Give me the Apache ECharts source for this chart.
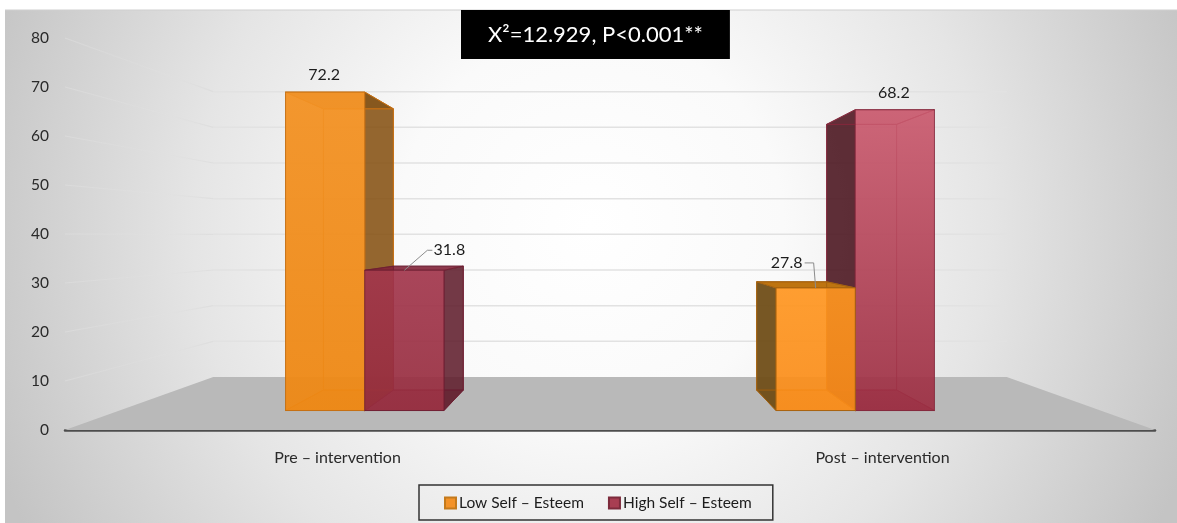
<!DOCTYPE html>
<html>
<head>
<meta charset="utf-8">
<style>html,body{margin:0;padding:0;background:#fff}#chart{width:1177px;height:523px}</style>
<script src="https://cdn.jsdelivr.net/npm/echarts@6/dist/echarts.min.js"></script>
</head>
<body>
<div id="chart"></div>
<script>
// Self-esteem levels before and after the intervention
const categories = ['Pre – intervention', 'Post – intervention'];
const lowSelfEsteem = [72.2, 27.8];
const highSelfEsteem = [31.8, 68.2];
const wallTicks = [0, 10, 20, 30, 40, 50, 60, 70, 80];
const statText = 'X²=12.929, P<0.001**';

const FONT = 'Lato, "Noto Sans", sans-serif';

// One-point perspective: every point is given in the plane of the axes and
// pulled toward the vanishing point by a depth factor.
const DEPTH_WALL = 0.728, DEPTH_BAR_FRONT = 0.9, DEPTH_BAR_BACK = 0.795;
const HORIZON_RATIO = 0.497;   // height of the vanishing point above the axis, as share of the plot
const BAR_BAND_RATIO = 0.1615; // bar width as share of a category band

function projector(cs) {
  const vx = cs.x + cs.width / 2;
  const vy = cs.y + cs.height - cs.height * HORIZON_RATIO;
  return (x, y, s) => [vx + s * (x - vx), vy + s * (y - vy)];
}

// Top-to-bottom shading of a front pane
function shade(top, bottom) {
  return new echarts.graphic.LinearGradient(0, 0, 0, 1, [
    { offset: 0, color: top },
    { offset: 1, color: bottom }
  ]);
}

const palettes = {
  low: [
    { front: shade('rgba(243,146,36,0.95)', 'rgba(238,136,20,0.95)'), side: 'rgba(130,76,12,0.85)', top: 'rgba(120,70,10,0.45)', floor: 'rgba(225,130,25,0.4)', line: 'rgba(196,112,20,0.95)' },
    { front: shade('rgba(255,150,32,0.92)', 'rgba(250,140,24,0.92)'), side: 'rgba(112,78,24,0.95)', top: 'rgba(190,116,16,1)', floor: 'rgba(225,130,25,0.4)', line: 'rgba(165,98,16,0.9)' }
  ],
  high: [
    { front: shade('rgba(162,54,76,0.92)', 'rgba(150,44,62,0.92)'), side: 'rgba(96,30,44,0.88)', top: 'rgba(130,36,56,0.9)', floor: 'rgba(140,50,70,0.5)', line: 'rgba(110,30,50,0.8)' },
    { front: shade('rgba(202,90,110,0.92)', 'rgba(156,46,66,0.92)'), side: 'rgba(80,28,38,0.92)', top: 'rgba(170,60,84,0.08)', floor: 'rgba(130,45,65,0.55)', line: 'rgba(130,40,60,0.85)' }
  ]
};

function boxRenderer(key, side) {
  return function (params, api) {
    const cat = api.value(0), value = api.value(1);
    const cs = params.coordSys;
    const P = projector(cs);
    const centre = api.coord([cat, 0]);
    const yBase = centre[1];
    const yTop = api.coord([cat, value])[1];
    const w = api.size([1, 0])[0] * BAR_BAND_RATIO;
    const x0 = side < 0 ? centre[0] - w : centre[0];
    const x1 = x0 + w;
    const f = DEPTH_BAR_FRONT, b = DEPTH_BAR_BACK;
    const pal = palettes[key][cat];

    // the box closer to the centre of the view is painted over its neighbour
    const leftOfCentre = cat === 0;
    let z = ((leftOfCentre ? side > 0 : side < 0) ? 200 : 100);
    const fill = (pts, color, stroke) => ({
      type: 'polygon', z2: z++, silent: true,
      shape: { points: pts },
      style: { fill: color, stroke: stroke || pal.line, lineWidth: 1 }
    });
    const edge = (a, c) => ({
      type: 'line', z2: z++, silent: true,
      shape: { x1: a[0], y1: a[1], x2: c[0], y2: c[1] },
      style: { stroke: pal.line, lineWidth: 1 }
    });

    const children = [];
    const innerX = leftOfCentre ? x1 : x0;
    // floor of the box, inner side wall, lid, back edges, then the front pane
    children.push(fill([P(x0, yBase, f), P(x1, yBase, f), P(x1, yBase, b), P(x0, yBase, b)], pal.floor));
    children.push(fill([P(innerX, yTop, f), P(innerX, yTop, b), P(innerX, yBase, b), P(innerX, yBase, f)], pal.side));
    children.push(fill([P(x0, yTop, f), P(x1, yTop, f), P(x1, yTop, b), P(x0, yTop, b)], pal.top));
    children.push(fill([P(x0, yTop, b), P(x1, yTop, b), P(x1, yBase, b), P(x0, yBase, b)], 'rgba(0,0,0,0)'));
    const outerX = leftOfCentre ? x0 : x1;
    children.push(edge(P(outerX, yTop, f), P(outerX, yTop, b)));
    children.push(edge(P(outerX, yBase, f), P(outerX, yBase, b)));
    children.push({
      type: 'polygon', z2: z++, silent: true,
      shape: { points: [P(x0, yTop, f), P(x1, yTop, f), P(x1, yBase, f), P(x0, yBase, f)] },
      style: { fill: pal.front, stroke: pal.line, lineWidth: 1 }
    });

    // value label, with a leader line for the shorter bar of each pair
    const anchor = P((x0 + x1) / 2, yTop, f);
    const text = (x, y) => ({
      type: 'text', z2: 900,
      style: { x, y, text: String(value), fill: '#1c1c1c', font: '16px ' + FONT, align: 'center', verticalAlign: 'middle' }
    });
    if (value >= 40) {
      children.push(text(anchor[0] - 1, anchor[1] - 17));
    } else {
      const right = side > 0;
      const lx = anchor[0] + (right ? 45 : -29), ly = anchor[1] + (right ? -20 : -25);
      const kneeX = lx + (right ? -17 : 18), tipX = lx + (right ? -23 : 25);
      children.push({
        type: 'polyline', z2: 899, silent: true,
        shape: { points: [[anchor[0], anchor[1]], [right ? kneeX - 5 : tipX + 2, ly], [kneeX, ly]] },
        style: { fill: 'none', stroke: '#8c8c8c', lineWidth: 1 }
      });
      children.push(text(lx, ly));
    }
    return { type: 'group', children };
  };
}

// Back wall gridlines, side wall lines and the grey floor
function sceneRenderer(params, api) {
  const cs = params.coordSys;
  const P = projector(cs);
  const xL = cs.x, xR = cs.x + cs.width;
  const children = [];
  const idx = params.dataIndex;
  const y = api.coord([0, api.value(1)])[1];
  if (idx === 0) {
    children.push({
      type: 'polygon', silent: true, z2: 1,
      shape: { points: [[xL, y], P(xL, y, DEPTH_WALL), P(xR, y, DEPTH_WALL), [xR, y]] },
      style: { fill: '#b9b9b9' }
    });
  }
  if (idx > 0) {
    const a = P(xL, y, DEPTH_WALL), c = P(xR, y, DEPTH_WALL);
    children.push({
      type: 'line', silent: true, z2: 2,
      shape: { x1: a[0], y1: a[1], x2: c[0], y2: c[1] },
      style: { stroke: '#e2e2e2', lineWidth: 1.5 }
    });
    children.push({
      type: 'line', silent: true, z2: 2,
      shape: { x1: xL, y1: y, x2: a[0], y2: a[1] },
      style: {
        lineWidth: 1.2,
        stroke: new echarts.graphic.LinearGradient(0, 0, 1, 0, [
          { offset: 0, color: 'rgba(236,236,236,0.3)' },
          { offset: 0.5, color: 'rgba(228,228,228,0.15)' },
          { offset: 1, color: 'rgba(218,218,218,0.7)' }
        ])
      }
    });
  }
  return { type: 'group', children };
}

const chart = echarts.init(document.getElementById('chart'), null, { renderer: 'canvas' });

chart.setOption({
  animation: false,
  backgroundColor: '#fff',
  graphic: [
    {
      type: 'rect', z: -10, silent: true,
      shape: { x: 5, y: 10, width: 1172, height: 513 },
      style: {
        fill: new echarts.graphic.RadialGradient(0.5, 0.42, 1.25, [
          { offset: 0, color: '#ffffff' },
          { offset: 0.3, color: '#fafafa' },
          { offset: 0.62, color: '#e5e5e5' },
          { offset: 1, color: '#c4c4c4' }
        ])
      }
    },
    {
      type: 'line', z: -9, silent: true,
      shape: { x1: 5, y1: 10, x2: 1177, y2: 10 },
      style: { stroke: '#cfcfcf', lineWidth: 1 }
    }
  ],
  title: {
    text: statText,
    left: 461, top: 10,
    padding: [9, 27, 9, 27],
    backgroundColor: '#000',
    textStyle: { color: '#fff', fontFamily: FONT, fontSize: 22, fontWeight: 'normal', lineHeight: 31 }
  },
  grid: { left: 65, right: 22, top: 38, bottom: 93 },
  legend: {
    left: 419, top: 485,
    padding: [10, 21, 9, 25],
    borderColor: '#333', borderWidth: 1.5,
    itemGap: 24, itemWidth: 11, itemHeight: 11,
    data: [
      { name: 'Low Self – Esteem', icon: 'rect' },
      { name: 'High Self – Esteem', icon: 'rect' }
    ],
    textStyle: { fontFamily: FONT, fontSize: 15.5, color: '#1c1c1c', padding: [0, 0, 0, -2] }
  },
  xAxis: {
    type: 'category', data: categories,
    axisTick: { show: false },
    axisLine: { lineStyle: { color: '#4d4d4d', width: 2.5 } },
    axisLabel: { fontFamily: FONT, fontSize: 16, color: '#2a2a2a', margin: 20 }
  },
  yAxis: {
    type: 'value', min: 0, max: 80, interval: 10,
    splitLine: { show: false }, axisLine: { show: false }, axisTick: { show: false },
    axisLabel: { fontFamily: FONT, fontSize: 15.5, color: '#2a2a2a', margin: 16 }
  },
  series: [
    {
      type: 'custom', name: 'wall', z: 1, silent: true,
      renderItem: sceneRenderer,
      data: wallTicks.map(v => [0, v]),
      encode: { x: 0, y: 1 }
    },
    {
      type: 'custom', name: 'Low Self – Esteem', z: 3, silent: true,
      itemStyle: { color: '#f39228', borderColor: '#c47a1c', borderWidth: 1 },
      renderItem: boxRenderer('low', -1),
      data: lowSelfEsteem.map((v, i) => [i, v]),
      encode: { x: 0, y: 1 }
    },
    {
      type: 'custom', name: 'High Self – Esteem', z: 3, silent: true,
      itemStyle: { color: '#a83e52', borderColor: '#7d2b3c', borderWidth: 1 },
      renderItem: boxRenderer('high', 1),
      data: highSelfEsteem.map((v, i) => [i, v]),
      encode: { x: 0, y: 1 }
    }
  ]
});
</script>
</body>
</html>
